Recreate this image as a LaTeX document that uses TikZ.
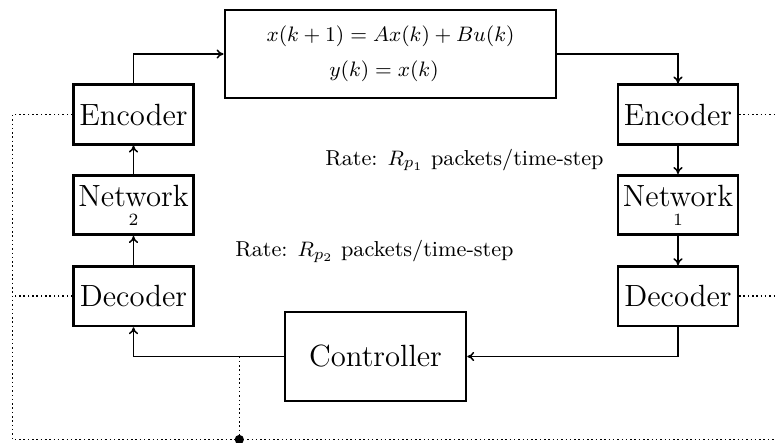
\documentclass[tikz,border=0pt]{standalone}
\usepackage{amsmath}
\usetikzlibrary{arrows.meta}
\begin{document}
\begin{tikzpicture}[x=0.43pt,y=-0.43pt,
  blk/.style={draw,line width=1.1pt,rectangle,inner sep=0pt,
    font=\fontsize{13.2}{8.2}\selectfont,minimum width=51.5pt,minimum height=25.6pt},
  conn/.style={line width=0.65pt,-{To[length=3pt,width=4pt]}},
  dotline/.style={line width=0.65pt,dash pattern=on 0.65pt off 1.2pt},
  small/.style={font=\fontsize{9.3}{11}\selectfont}]
\clip (0,0) rectangle (775,442);
% plant
\node[draw,line width=1.1pt,inner sep=0pt,minimum width=142.5pt,minimum height=38pt,
  align=center,font=\fontsize{9.5}{15}\selectfont] (plant) at (390.5,54)
  {$x(k+1) = Ax(k) + Bu(k)$\\$y(k) = x(k)$\makebox[5.6pt]{}};
% left column
\node[blk] (encL) at (133.5,114.5) {Encoder};
\node[blk,align=center] (netL) at (133.5,205) {Network\\{\fontsize{7.4}{8}\selectfont 2}};
\node[blk] (decL) at (133.5,296.2) {Decoder};
% right column
\node[blk] (encR) at (678,114.5) {Encoder};
\node[blk,align=center] (netR) at (678,205) {Network\\{\fontsize{7.4}{8}\selectfont 1}};
\node[blk] (decR) at (678,296.2) {Decoder};
% controller
\node[draw,line width=1.1pt,inner sep=0pt,minimum width=77.8pt,minimum height=38.3pt,
  font=\fontsize{13.2}{16}\selectfont] (ctrl) at (375.5,356.5) {Controller};
% rate labels
\node[small] (r1) at (464.5,160) {Rate: $R_{p_1}$\ packets/time-step};
\node[small] (r2) at (374.5,251.5) {Rate: $R_{p_2}$\ packets/time-step};
% solid connectors
\draw[conn] (encL.north) |- (plant.west);
\draw[conn] (plant.east) -| (encR.north);
\draw[conn] (encR.south) -- (netR.north);
\draw[conn] (netR.south) -- (decR.north);
\draw[conn] (decR.south) |- (ctrl.east);
\coordinate (tap) at (239.3,356.5);
\draw[conn] (ctrl.west) -| (decL.south);
\draw[conn] (decL.north) -- (netL.south);
\draw[conn] (netL.north) -- (encL.south);
% dotted lines
\coordinate (bl) at (12.5,439.5);
\coordinate (tapb) at (239.3,439.5);
\coordinate (br) at (775,439.5);
\coordinate (er) at (775,114.5);
\coordinate (dr) at (775,296.2);
\draw[dotline] (encL.west) -| (bl) -- (br);
\draw[dotline] (decL.west) -- (decL.west -| bl);
\draw[dotline] (tap) -- (tapb);
\draw[dotline] (encR.east) -- (er);
\draw[dotline] (decR.east) -- (dr);
\fill (tapb) circle (2pt);
\end{tikzpicture}
\end{document}
